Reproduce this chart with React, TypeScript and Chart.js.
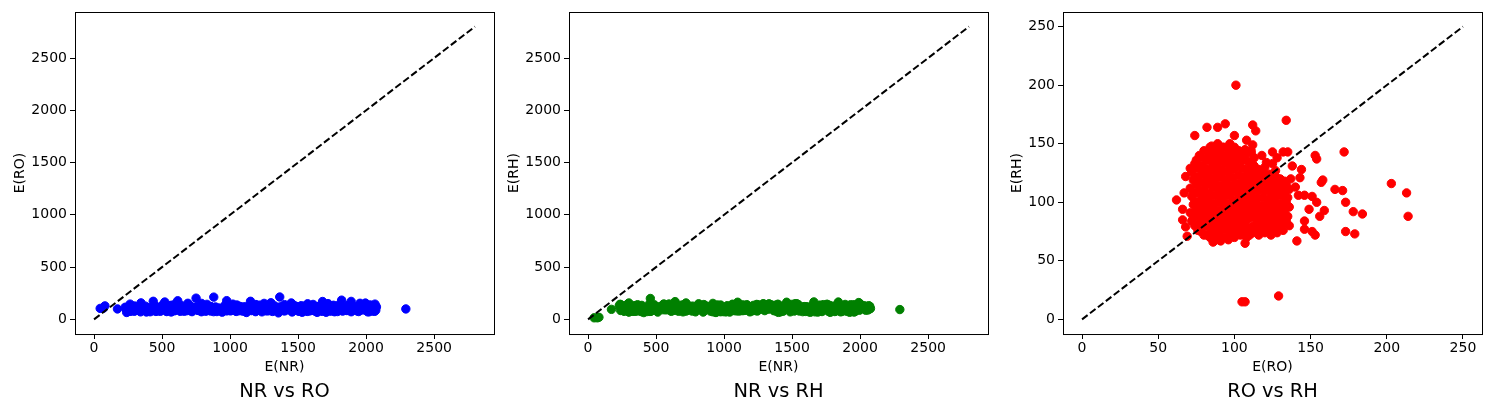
import React, { useEffect, useRef } from "react";
import { Chart, registerables } from "chart.js";

Chart.register(...registerables);

// E(NR) per sample
const NR_VALUES = [
  1234, 567, 1890, 342, 1456, 789, 2012, 1123, 455, 1678,
  903, 1567, 268, 1789, 1045, 634, 1312, 1945, 487, 1190,
  721, 1623, 389, 1402, 2048, 856, 1278, 533, 1734, 975,
  1501, 301, 1867, 682, 1156, 1999, 428, 1345, 817, 1590,
  246, 1712, 1067, 595, 1923, 1389, 764, 1201, 472, 1834,
  938, 1478, 357, 2071, 1023, 649, 1656, 1289, 512, 1767,
  1098, 283, 1545, 868, 1978, 404, 1367, 742, 1823, 1167,
  556, 1634, 995, 321, 1412, 1889, 677, 1256, 2035, 443,
  1701, 805, 1134, 235, 1523, 1956, 612, 1078, 1845, 369,
  1323, 928, 1602, 501, 1741, 1215, 287, 2002, 698, 1434,
  1057, 1867, 419, 1298, 773, 1576, 1912, 336, 1143, 851,
  1689, 462, 1381, 2057, 617, 1009, 1801, 255, 1489, 1176,
  727, 1958, 393, 1245, 1613, 548, 882, 1753, 1089, 2018,
  310, 1527, 952, 1396, 1857, 665, 1206, 478, 1688, 1035,
  1942, 796, 1341, 229, 1578, 1112, 1773, 587, 1264, 2076,
  434, 1495, 893, 1721, 1013, 352, 1636, 1189, 759, 1906,
  1419, 628, 1983, 1071, 297, 1553, 838, 1812, 1328, 519,
  1147, 1739, 376, 1597, 961, 2041, 706, 1273, 1871, 447,
  1663, 1024, 1438, 574, 1795, 1218, 1355, 240, 1706, 942,
  1530, 385, 720, 1100, 1460, 1660, 458, 1840, 1990, 300,
  918, 1330, 640, 1240, 560, 1760, 2030, 830, 1610, 1050,
  1250, 690, 1450, 345, 520, 1680, 1890, 1150, 435, 975,
  615, 1820, 750, 880, 1365, 1955, 1570, 1020, 265, 1720,
  790, 1400, 1190, 2065, 600, 1300, 1995, 940, 1780, 410,
  80, 45, 68, 2292, 172, 1120, 1640, 505, 1480, 860,
  1930,
  1187, 412, 1643, 879, 2022, 534, 1356, 1768, 296, 1092,
  1509, 663, 1827, 258, 1117, 1453, 2063, 821, 1669, 378,
  1003, 1582, 469, 1747, 1262, 589, 1934, 711, 1395, 1041,
  327, 1855, 976, 1628, 541, 1171, 2009, 768, 1308, 1729,
  452, 1486, 899, 1961, 1227, 318, 1613, 1065, 1797, 655,
  1372, 238, 1534, 846, 1902, 1129, 491, 1683, 1019, 2044,
  603, 1426, 1780, 364, 1287, 934, 1862, 1153, 709, 1557,
  276, 1690, 1083, 1998, 579, 1343, 813, 1619, 1205, 423,
  1884, 1048, 1471, 697, 2026, 349, 1238, 1755, 916, 1516,
  1133, 521, 1937, 1292, 784, 1591, 261, 1702, 1061, 1415,
  1820, 641, 1179, 482, 1976, 1326, 869, 1651, 395, 1545,
  1014, 1772, 308, 1444, 731, 2053, 1197, 566, 1849, 962,
  1367, 436, 1618, 1091, 1927, 684, 1265, 1814, 1052, 251,
  1585, 857, 1723, 1310, 499, 1965, 1140, 624, 1391, 1869,
  787, 1251, 1676, 339, 1523, 1006, 2069, 1176, 448, 1737,
  1299, 598, 1863, 1038, 1467,
];

// E(RO) per sample
const RO_VALUES = [
  72, 71, 73, 72, 71, 73, 72, 74, 76, 77,
  75, 76, 77, 75, 76, 77, 76, 75, 77, 80,
  81, 79, 80, 81, 79, 80, 81, 80, 79, 81,
  80, 84, 85, 83, 84, 85, 83, 84, 85, 83,
  84, 85, 83, 84, 88, 89, 87, 88, 89, 87,
  88, 89, 87, 88, 89, 87, 88, 89, 92, 93,
  91, 92, 93, 91, 92, 93, 91, 92, 93, 91,
  92, 96, 97, 95, 96, 97, 95, 96, 97, 95,
  96, 97, 95, 96, 97, 100, 101, 99, 100, 101,
  99, 100, 101, 99, 100, 101, 99, 100, 104, 105,
  103, 104, 105, 103, 104, 105, 103, 104, 105, 103,
  108, 109, 107, 108, 109, 107, 108, 109, 107, 108,
  109, 107, 112, 113, 111, 112, 113, 111, 112, 113,
  111, 112, 113, 111, 116, 117, 115, 116, 117, 115,
  116, 117, 115, 116, 120, 121, 119, 120, 121, 119,
  120, 121, 119, 120, 124, 125, 123, 124, 125, 123,
  124, 125, 123, 125, 128, 129, 127, 128, 129, 127,
  128, 129, 127, 132, 133, 131, 132, 133, 131, 132,
  133, 136, 135, 136, 135, 136, 62, 66, 68, 69,
  68, 71, 74, 82, 89, 94, 101, 112, 114, 100,
  108, 112, 134, 125, 132, 135, 138, 144, 143, 137,
  153, 154, 157, 158, 166, 171, 172, 173, 173, 179,
  178, 184, 203, 213, 214, 154, 149, 146, 146, 151,
  153, 141, 142, 146, 151, 159, 156, 86, 91, 107,
  129, 105, 107, 100, 100, 66, 67, 140, 128, 121,
  118,
  74, 73, 75, 74, 73, 75, 74, 73,
  78, 79, 77, 78, 79, 77, 78, 79, 77, 78,
  82, 83, 81, 82, 83, 81, 82, 83, 81, 82, 83,
  86, 87, 85, 86, 87, 85, 86, 87, 85, 86, 87, 85,
  90, 91, 89, 90, 91, 89, 90, 91, 89, 90, 91, 89,
  94, 95, 93, 94, 95, 93, 94, 95, 93, 94, 95, 93,
  98, 99, 97, 98, 99, 97, 98, 99, 97, 98, 99, 97,
  102, 103, 101, 102, 103, 101, 102, 103, 101, 102, 103,
  106, 107, 105, 106, 107, 105, 106, 107, 105, 106, 107,
  110, 111, 109, 110, 111, 109, 110, 111, 109, 110, 111,
  114, 115, 113, 114, 115, 113, 114, 115, 113,
  118, 119, 117, 118, 119, 117, 118, 119,
  122, 123, 121, 122, 123, 121, 122, 123,
  126, 127, 125, 126, 127, 125, 126, 127,
  130, 131, 129, 130, 131, 129, 130,
  134, 133, 134, 133, 134,
];

// E(RH) per sample
const RH_VALUES = [
  84, 91, 98, 105, 112, 119, 126, 133, 76, 82,
  88, 95, 101, 108, 115, 122, 129, 136, 140, 72,
  79, 85, 92, 98, 105, 111, 118, 124, 131, 137,
  144, 70, 76, 83, 89, 95, 102, 108, 115, 121,
  128, 134, 141, 147, 68, 74, 80, 87, 93, 99,
  106, 112, 118, 125, 131, 138, 144, 149, 70, 77,
  83, 90, 96, 103, 109, 115, 122, 128, 135, 141,
  147, 68, 74, 80, 86, 93, 99, 106, 112, 119,
  125, 131, 138, 144, 150, 70, 77, 83, 89, 96,
  102, 109, 115, 121, 128, 134, 141, 147, 72, 78,
  85, 91, 98, 104, 110, 117, 123, 130, 136, 142,
  70, 77, 83, 90, 96, 103, 109, 116, 122, 128,
  135, 140, 74, 80, 87, 93, 100, 106, 113, 119,
  126, 132, 138, 144, 72, 78, 85, 91, 97, 104,
  110, 116, 122, 128, 74, 80, 86, 92, 98, 104,
  110, 116, 122, 130, 72, 78, 84, 90, 96, 102,
  108, 114, 120, 133, 74, 80, 86, 92, 98, 104,
  110, 116, 122, 76, 82, 88, 94, 100, 106, 112,
  118, 80, 88, 96, 104, 111, 102, 85, 79, 71,
  122, 129, 157, 164, 164, 167, 200, 166, 161, 157,
  153, 149, 170, 143, 143, 143, 131, 128, 121, 120,
  140, 137, 117, 119, 111, 110, 143, 100, 75, 73,
  92, 90, 116, 108, 88, 100, 94, 84, 77, 75,
  72, 67, 106, 106, 105, 93, 88, 66, 67, 65,
  20, 15, 15, 94, 96, 94, 108, 113, 138, 134,
  140,
  80, 87, 94, 101, 108, 115, 122, 129,
  75, 82, 89, 96, 103, 110, 117, 124, 131, 138,
  72, 80, 87, 94, 101, 108, 115, 122, 129, 136, 143,
  70, 78, 85, 92, 99, 106, 113, 120, 127, 134, 141, 148,
  72, 79, 86, 93, 100, 107, 114, 121, 128, 135, 142, 150,
  70, 77, 84, 91, 98, 105, 112, 119, 126, 133, 140, 147,
  72, 79, 86, 93, 100, 107, 114, 121, 128, 135, 142, 149,
  74, 81, 88, 95, 102, 109, 116, 123, 130, 137, 144,
  73, 80, 87, 94, 101, 108, 115, 122, 129, 136, 145,
  72, 79, 86, 93, 100, 107, 114, 121, 128, 134, 142,
  75, 82, 89, 96, 103, 110, 117, 124, 131,
  76, 83, 90, 97, 104, 111, 118, 125,
  75, 82, 89, 96, 103, 110, 117, 124,
  77, 84, 91, 98, 105, 112, 119, 127,
  78, 85, 92, 99, 106, 113, 120,
  84, 92, 100, 108, 115,
];

const LARGE_TICKS = [0, 500, 1000, 1500, 2000, 2500];
const SMALL_TICKS = [0, 50, 100, 150, 200, 250];
const LARGE_DIAG = [0, 2800];
const SMALL_DIAG = [0, 250];
const LARGE_RANGE = [-140, 2940];
const SMALL_RANGE = [-12.5, 262.5];

const PANEL_TITLES = ["NR vs RO", "NR vs RH", "RO vs RH"];
const X_LABELS = ["E(NR)", "E(NR)", "E(RO)"];
const Y_LABELS = ["E(RO)", "E(RH)", "E(RH)"];
const COLORS = ["#0000ff", "#008000", "#ff0000"];

const FONT = "'DejaVu Sans', sans-serif";
const W = 495;
const H = 415;

const framePlugin = {
  id: "frame",
  afterDraw(chart: any) {
    const { ctx, chartArea: a } = chart;
    ctx.save();
    ctx.strokeStyle = "#000";
    ctx.lineWidth = 1;
    ctx.strokeRect(a.left + 0.5, a.top + 0.5, a.right - a.left, a.bottom - a.top);
    ctx.restore();
  },
};

type PanelProps = {
  xs: number[];
  ys: number[];
  color: string;
  title: string;
  xLabel: string;
  yLabel: string;
  ticks: number[];
  range: number[];
  diag: number[];
  left: number;
  yTitlePad: number;
};

function Panel(p: PanelProps) {
  const ref = useRef<HTMLCanvasElement | null>(null);
  useEffect(() => {
    if (!ref.current) return;
    const n = Math.min(p.xs.length, p.ys.length);
    const pts = p.xs.slice(0, n).map((x, i) => ({ x, y: p.ys[i] }));
    const diagPts = p.diag.map((v) => ({ x: v, y: v }));
    const tickFont = { family: FONT, size: 14 };
    const axisCommon = (label: string, isX: boolean, titlePad: any) => ({
      type: "linear" as const,
      min: p.range[0],
      max: p.range[1],
      afterBuildTicks: (axis: any) => {
        axis.ticks = p.ticks.map((v) => ({ value: v }));
      },
      grid: {
        display: true,
        drawOnChartArea: false,
        drawTicks: true,
        tickLength: 5,
        color: "#000",
        lineWidth: 1,
      },
      border: { display: false },
      ticks: {
        font: tickFont,
        color: "#000",
        padding: isX ? 1 : 3,
        maxRotation: 0,
        autoSkip: false,
        callback: (v: any) => String(v),
      },
      title: {
        display: true,
        text: label,
        font: { family: FONT, size: 14 },
        color: "#000",
        padding: titlePad,
      },
    });
    const chart = new Chart(ref.current, {
      type: "scatter",
      data: {
        datasets: [
          {
            data: diagPts,
            showLine: true,
            borderColor: "#000",
            borderWidth: 2,
            borderDash: [7, 3],
            pointRadius: 0,
            fill: false,
            order: 0,
          } as any,
          {
            data: pts,
            backgroundColor: p.color,
            borderColor: p.color,
            borderWidth: 1,
            pointRadius: 4.2,
            order: 1,
          },
        ],
      },
      options: {
        responsive: false,
        animation: false,
        devicePixelRatio: 1,
        events: [],
        layout: { autoPadding: false, padding: { top: 12, right: 1, left: 0, bottom: 0 } },
        plugins: {
          legend: { display: false },
          tooltip: { enabled: false },
          title: {
            display: true,
            position: "bottom",
            fullSize: false,
            text: p.title,
            font: { family: FONT, size: 19.4, weight: "normal" },
            color: "#000",
            padding: { top: 0, bottom: 11.3 },
          },
        },
        scales: {
          x: {
            ...axisCommon(p.xLabel, true, { top: 0, bottom: 4.6 }),
            position: "bottom",
            afterFit: (s: any) => {
              s.height = 46.4;
            },
          } as any,
          y: {
            ...axisCommon(p.yLabel, false, { top: p.yTitlePad, bottom: 0 }),
            position: "left",
            afterFit: (s: any) => {
              s.width = 75;
            },
          } as any,
        },
      } as any,
      plugins: [framePlugin],
    });
    return () => chart.destroy();
  }, []);
  return (
    <canvas
      ref={ref}
      width={W}
      height={H}
      style={{ position: "absolute", left: p.left, top: 0, width: W, height: H, display: "block" }}
    />
  );
}

export default function App() {
  const series = [
    [NR_VALUES, RO_VALUES],
    [NR_VALUES, RH_VALUES],
    [RO_VALUES, RH_VALUES],
  ];
  const lefts = [0, 494, 988];
  const yPads = [11.6, 11.6, 21];
  return (
    <div style={{ position: "absolute", left: 0, top: 0, width: 1495, height: 415, background: "#fff" }}>
      {series.map((s, i) => (
        <Panel
          key={i}
          xs={s[0]}
          ys={s[1]}
          color={COLORS[i]}
          title={PANEL_TITLES[i]}
          xLabel={X_LABELS[i]}
          yLabel={Y_LABELS[i]}
          ticks={i === 2 ? SMALL_TICKS : LARGE_TICKS}
          range={i === 2 ? SMALL_RANGE : LARGE_RANGE}
          diag={i === 2 ? SMALL_DIAG : LARGE_DIAG}
          left={lefts[i]}
          yTitlePad={yPads[i]}
        />
      ))}
    </div>
  );
}
